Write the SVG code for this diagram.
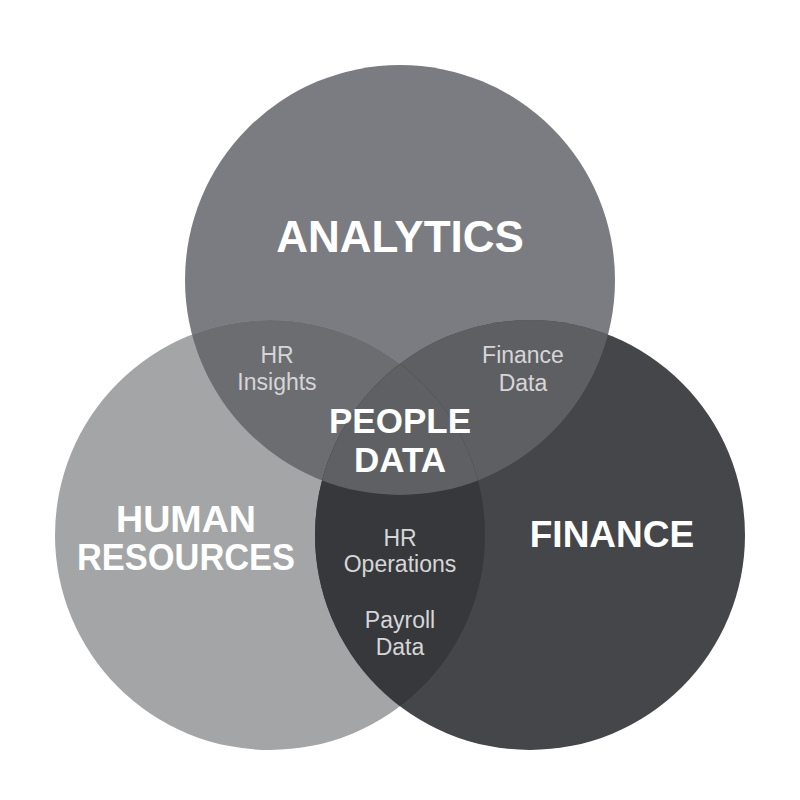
<svg xmlns="http://www.w3.org/2000/svg" width="800" height="800" viewBox="0 0 800 800">
  <style>
    .big { font-family: "Liberation Sans", Arial, sans-serif; font-weight: bold; fill: #ffffff; text-anchor: middle; }
    .small { font-family: "Liberation Sans", Arial, sans-serif; fill: #d6d6d8; text-anchor: middle; font-size: 23px; }
  </style>
  <defs>
    <clipPath id="clipTop"><circle cx="400" cy="280" r="215"/></clipPath>
    <clipPath id="clipLeft"><circle cx="270" cy="535" r="215"/></clipPath>
    <clipPath id="clipRight"><circle cx="530" cy="535" r="215"/></clipPath>
  </defs>
  <rect width="800" height="800" fill="#ffffff"/>
  <g id="analytics">
    <circle cx="400" cy="280" r="215" fill="#7b7c81"/>
  </g>
  <g id="human-resources">
    <circle cx="270" cy="535" r="215" fill="#a4a5a7"/>
  </g>
  <g id="finance">
    <circle cx="530" cy="535" r="215" fill="#45464a"/>
  </g>
  <g id="overlaps">
    <g clip-path="url(#clipTop)">
      <circle cx="270" cy="535" r="215" fill="#6c6d71"/>
      <circle cx="530" cy="535" r="215" fill="#5e5f63"/>
    </g>
    <g clip-path="url(#clipLeft)">
      <g clip-path="url(#clipRight)">
        <rect width="800" height="800" fill="#36383b"/>
        <circle cx="400" cy="280" r="215" fill="#5f6064"/>
      </g>
    </g>
  </g>
  <g id="labels">
    <text class="big" x="400" y="252" font-size="44">ANALYTICS</text>
    <text class="big" x="186" y="532" font-size="36" textLength="140" lengthAdjust="spacingAndGlyphs">HUMAN</text>
    <text class="big" x="186" y="570" font-size="36" textLength="218" lengthAdjust="spacingAndGlyphs">RESOURCES</text>
    <text class="big" x="612" y="547" font-size="37">FINANCE</text>
    <text class="big" x="400" y="433" font-size="35">PEOPLE</text>
    <text class="big" x="400" y="472" font-size="35">DATA</text>
    <text class="small" x="277" y="363">HR</text>
    <text class="small" x="277" y="390">Insights</text>
    <text class="small" x="523" y="363">Finance</text>
    <text class="small" x="523" y="391">Data</text>
    <text class="small" x="400" y="546">HR</text>
    <text class="small" x="400" y="572">Operations</text>
    <text class="small" x="400" y="628">Payroll</text>
    <text class="small" x="400" y="655">Data</text>
  </g>
</svg>
